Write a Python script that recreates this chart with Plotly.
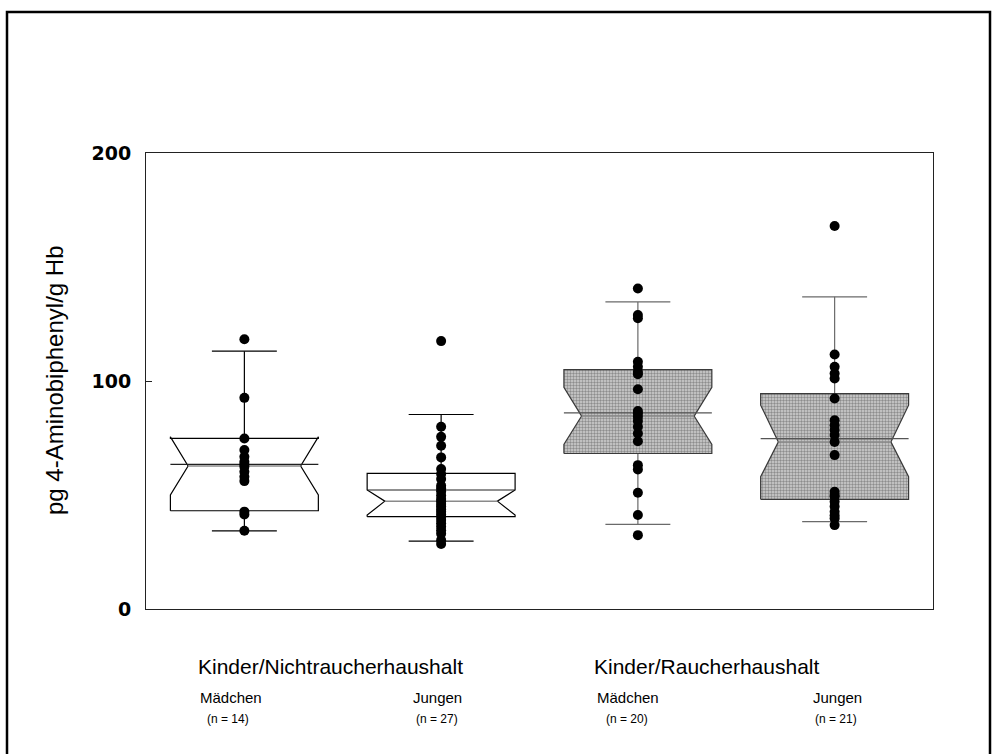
import plotly.graph_objects as go

# ---------------- data ----------------
groups = ["Mädchen", "Jungen", "Mädchen", "Jungen"]
n_labels = ["(n = 14)", "(n = 27)", "(n = 20)", "(n = 21)"]
household_labels = ["Kinder/Nichtraucherhaushalt", "Kinder/Raucherhaushalt"]

pts_girls_nonsmoking = [118.3, 92.6, 74.8, 69.7, 66.8, 64.6, 63.5, 62.4, 60.2, 58.0,
                        56.1, 42.7, 41.5, 34.3]
pts_boys_nonsmoking = [117.5, 79.9, 75.5, 71.6, 66.5, 61.4, 59.2, 57.0, 54.1, 52.9,
                       51.5, 49.8, 48.2, 47.3, 46.0, 45.0, 43.8, 42.6, 41.5, 40.3,
                       39.0, 37.6, 36.1, 34.5, 33.0, 30.2, 28.5]
pts_girls_smoking = [140.6, 128.9, 127.5, 108.4, 106.2, 104.0, 103.0, 96.4, 86.8, 85.8,
                     84.3, 82.5, 79.9, 77.0, 73.6, 63.1, 61.2, 51.0, 41.2, 32.4]
pts_boys_smoking = [168.0, 111.6, 106.2, 103.3, 101.1, 92.3, 82.8, 80.6, 78.5, 76.3,
                    73.3, 67.5, 51.4, 50.0, 49.2, 47.0, 45.0, 42.6, 41.0, 39.7, 36.8]
points = [pts_girls_nonsmoking, pts_boys_nonsmoking, pts_girls_smoking, pts_boys_smoking]

q1 = [43.1, 40.5, 68.2, 48.1]
median = [62.7, 47.3, 84.6, 73.3]
q3 = [74.8, 59.5, 105.0, 94.5]
mean = [63.4, 52.2, 86.0, 74.7]
notch_lo = [50.0, 41.2, 72.2, 58.0]
notch_hi = [75.5, 52.2, 97.2, 89.4]
whisker_lo = [34.3, 29.8, 37.1, 38.3]
whisker_hi = [113.1, 85.3, 134.7, 136.9]
shaded = [False, False, True, True]

# ---------------- styling ----------------
HALF_BOX = 0.376
HALF_NOTCH = 0.286
HALF_CAP = 0.165
TEXT_FONT = "Liberation Sans, Arial, sans-serif"

fig = go.Figure()

for i in range(4):
    c = i + 1
    dark = "#000000" if not shaded[i] else "#3a3a3a"
    wcol = "#000000" if not shaded[i] else "#6a6a6a"
    L, R = c - HALF_BOX, c + HALF_BOX
    nl, nr = c - HALF_NOTCH, c + HALF_NOTCH

    # whiskers and caps
    wx = [c, c, None, c, c, None, c - HALF_CAP, c + HALF_CAP, None, c - HALF_CAP, c + HALF_CAP]
    wy = [q3[i], whisker_hi[i], None, q1[i], whisker_lo[i], None,
          whisker_hi[i], whisker_hi[i], None, whisker_lo[i], whisker_lo[i]]
    fig.add_trace(go.Scatter(x=wx, y=wy, mode="lines",
                             line=dict(color=wcol, width=1.2),
                             hoverinfo="skip", showlegend=False))

    # notched box outline
    bx = [L, L, nl, L, L, R, R, nr, R, R, L]
    by = [q1[i], notch_lo[i], median[i], notch_hi[i], q3[i], q3[i],
          notch_hi[i], median[i], notch_lo[i], q1[i], q1[i]]
    box_kw = dict(x=bx, y=by, mode="lines", fill="toself",
                  line=dict(color=dark, width=1.2),
                  hoverinfo="skip", showlegend=False)
    if shaded[i]:
        box_kw["fillcolor"] = "#cccccc"
        box_kw["fillpattern"] = dict(shape=".", fgcolor="#4a4a4a", bgcolor="#d0d0d0",
                                     size=3, solidity=0.5)
    else:
        box_kw["fillcolor"] = "white"
    fig.add_trace(go.Scatter(**box_kw))

    # mean line (full width) and median (notch waist)
    fig.add_trace(go.Scatter(x=[L, R], y=[mean[i], mean[i]], mode="lines",
                             line=dict(color="#202020" if not shaded[i] else "#555555", width=1.2),
                             hoverinfo="skip", showlegend=False))
    fig.add_trace(go.Scatter(x=[nl, nr], y=[median[i], median[i]], mode="lines",
                             line=dict(color="#8a8a8a", width=1.5),
                             hoverinfo="skip", showlegend=False))

    # individual values
    fig.add_trace(go.Scatter(x=[c] * len(points[i]), y=points[i], mode="markers",
                             marker=dict(color="black", size=10, line=dict(width=0)),
                             showlegend=False,
                             hovertemplate="%{y}<extra></extra>"))

W, H = 992, 754
ML, MR, MT, MB = 146, 59, 153, 145
pw, ph = W - ML - MR, H - MT - MB


def px2paper_x(px):
    return (px - ML) / pw


def px2paper_y(py):
    return (H - MB - py) / ph


annotations = []
# y axis title
annotations.append(dict(text="pg 4-Aminobiphenyl/g Hb", textangle=-90,
                        x=px2paper_x(54), y=px2paper_y(380), xref="paper", yref="paper",
                        xanchor="center", yanchor="middle", showarrow=False,
                        font=dict(family=TEXT_FONT, size=24, color="black")))
# household labels
for label, cx in zip(household_labels, [330, 706]):
    annotations.append(dict(text=label, x=px2paper_x(cx), y=px2paper_y(666),
                            xref="paper", yref="paper", xanchor="center", yanchor="middle",
                            showarrow=False,
                            font=dict(family=TEXT_FONT, size=21, color="black")))
# group labels
group_px = [231, 437, 628, 837]
n_px = [228, 437, 627, 836]
for g, nl_, gx, nx in zip(groups, n_labels, group_px, n_px):
    annotations.append(dict(text=g, x=px2paper_x(gx), y=px2paper_y(697), xref="paper",
                            yref="paper", xanchor="center", yanchor="middle", showarrow=False,
                            font=dict(family=TEXT_FONT, size=15, color="black")))
    annotations.append(dict(text=nl_, x=px2paper_x(nx), y=px2paper_y(719), xref="paper",
                            yref="paper", xanchor="center", yanchor="middle", showarrow=False,
                            font=dict(family=TEXT_FONT, size=12, color="black")))

fig.update_layout(
    width=W, height=H,
    margin=dict(l=ML, r=MR, t=MT, b=MB, pad=0),
    paper_bgcolor="white", plot_bgcolor="white",
    showlegend=False,
    xaxis=dict(range=[0.5, 4.5], showticklabels=False, ticks="", showgrid=False,
               zeroline=False, showline=True, linecolor="#222222", linewidth=1,
               mirror=True, fixedrange=True),
    yaxis=dict(range=[0, 200], tickvals=[0, 100, 200], ticktext=["0", "100", "200"],
               ticks="inside", ticklen=6, tickcolor="#222222", showgrid=False,
               zeroline=False, showline=True, linecolor="#222222", linewidth=1,
               mirror=True, ticklabelstandoff=10,
               tickfont=dict(family="DejaVu Sans", size=19, color="black", weight="bold")),
    annotations=annotations,
    shapes=[dict(type="rect", xref="paper", yref="paper",
                 x0=px2paper_x(7), x1=px2paper_x(990),
                 y0=px2paper_y(770), y1=px2paper_y(12),
                 line=dict(color="black", width=2.5), fillcolor="rgba(0,0,0,0)",
                 layer="above")],
)

fig.write_html("out.html")
